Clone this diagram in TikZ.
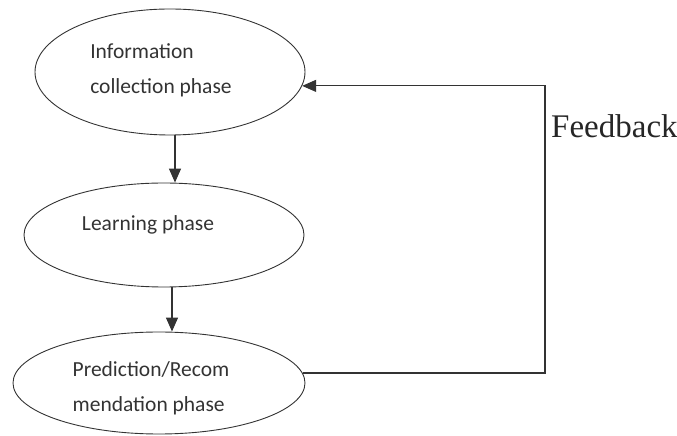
\documentclass[tikz,border=0pt]{standalone}
\usepackage{fontspec}
\setmainfont{Carlito}
\newfontfamily\serifft{Liberation Serif}
\usetikzlibrary{arrows.meta,shapes.geometric}
\begin{document}
\begin{tikzpicture}[x=1pt,y=1pt,
  phase/.style={ellipse,draw=black!80,line width=0.9pt,inner sep=0pt},
  lbl/.style={align=left,text=black!80,font=\fontsize{21.5}{35}\selectfont,inner sep=0pt},
  arr/.style={draw=black!80,line width=1.3pt,-{Triangle[length=14pt,width=12pt]}}]
\useasboundingbox (0,0) rectangle (677,436);
\node[phase,minimum width=270pt,minimum height=126pt] (top) at (170,364) {};
\node[phase,minimum width=280pt,minimum height=104pt] (mid) at (164,201) {};
\node[phase,minimum width=292pt,minimum height=102pt] (bot) at (159,53) {};
\node[lbl] (t1) at (161,366) {Information\\collection phase};
\node[lbl] (t2) at (148,211) {Learning phase};
\node[lbl] (t3) at (151,48) {Prediction/Recom\\mendation phase};
\draw[arr] ([xshift=5pt]top.south) -- ([xshift=5pt]top.south |- mid.north);
\draw[arr] ([xshift=8pt]mid.south) -- ([xshift=8pt]mid.south |- bot.north);
\coordinate (fbx) at (545,0);
\draw[arr,line width=1.1pt] (bot.4) -- (bot.4 -| fbx) |- (top.-6);
\node[anchor=base west,inner sep=0pt,text=black!85,font=\serifft\fontsize{33}{36}\selectfont] (fb) at (551,298) {Feedback};
\end{tikzpicture}
\end{document}
